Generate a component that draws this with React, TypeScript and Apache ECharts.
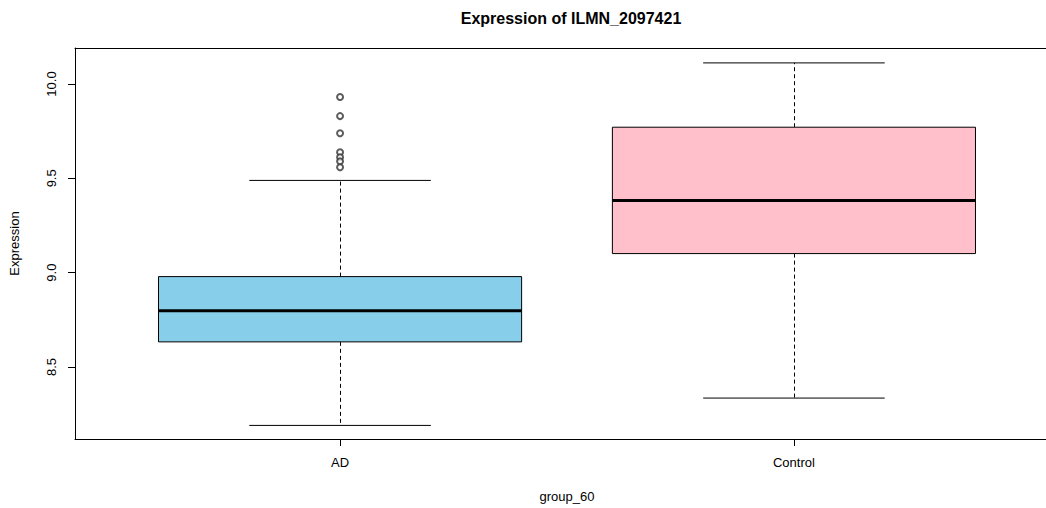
import React, { useEffect, useRef } from "react";
import * as echarts from "echarts";

const categories = ["AD", "Control"];
const whiskerLow = [8.19, 8.335];
const q1 = [8.633, 9.101];
const median = [8.798, 9.383];
const q3 = [8.979, 9.771];
const whiskerHigh = [9.489, 10.112];
const fills = ["#87CEEB", "#FFC0CB"];
const adOutliers = [9.931, 9.83, 9.739, 9.638, 9.612, 9.59, 9.559];
const yTicks = [8.5, 9.0, 9.5, 10.0];

const FONT = "Liberation Sans, Arial, sans-serif";

export default function App() {
  const ref = useRef<HTMLDivElement>(null);
  useEffect(() => {
    if (!ref.current) return;
    const chart = echarts.init(ref.current, null, { renderer: "svg" });
    const boxData = categories.map((c, i) => [i + 1, whiskerLow[i], q1[i], median[i], q3[i], whiskerHigh[i], i]);
    const outlierData = adOutliers.map((v) => [1, v]);
    const option = {
      animation: false,
      backgroundColor: "#ffffff",
      textStyle: { fontFamily: FONT },
      title: {
        text: "Expression of ILMN_2097421",
        left: 566,
        textAlign: "center",
        top: 5,
        textStyle: { fontFamily: FONT, fontSize: 16, fontWeight: "bold", color: "#000" },
      },
      grid: {
        left: 75,
        top: 48,
        right: -13,
        bottom: 69,
        show: false,
        containLabel: false,
        outerBoundsMode: "none",
      },
      xAxis: [
        {
          type: "value",
          min: 0.416,
          max: 2.584,
          name: "group_60",
          nameLocation: "middle",
          nameGap: 51,
          nameTextStyle: { fontFamily: FONT, fontSize: 13, color: "#000" },
          axisLine: { show: true, onZero: false, lineStyle: { color: "#000" } },
          splitLine: { show: false },
          axisTick: { show: true, length: 7, customValues: [1, 2], lineStyle: { color: "#000" } },
          axisLabel: {
            customValues: [1, 2],
            margin: 17,
            fontFamily: FONT,
            fontSize: 13,
            color: "#000",
            formatter: (v: number) => categories[Math.round(v) - 1] ?? "",
          },
        },
        {
          type: "value",
          min: 0.416,
          max: 2.584,
          position: "top",
          axisLine: { show: true, onZero: false, lineStyle: { color: "#000" } },
          splitLine: { show: false },
          axisTick: { show: false },
          axisLabel: { show: false },
        },
      ],
      yAxis: {
        type: "value",
        min: 8.118,
        max: 10.191,
        name: "Expression",
        nameLocation: "middle",
        nameGap: 54,
        nameRotate: 90,
        nameTextStyle: { fontFamily: FONT, fontSize: 13, color: "#000" },
        axisLine: { show: true, onZero: false, lineStyle: { color: "#000" } },
        splitLine: { show: false },
        axisTick: { show: true, length: 7, customValues: yTicks, lineStyle: { color: "#000" } },
        axisLabel: {
          customValues: yTicks,
          rotate: 90,
          margin: 17,
          fontFamily: FONT,
          fontSize: 13,
          color: "#000",
          formatter: (v: number) => v.toFixed(1),
        },
      },
      series: [
        {
          type: "custom",
          data: boxData,
          renderItem: (params: any, api: any) => {
            const x = api.value(0);
            const lo = api.value(1);
            const a = api.value(2);
            const m = api.value(3);
            const b = api.value(4);
            const hi = api.value(5);
            const idx = api.value(6);
            const pL = api.coord([x - 0.4, b]);
            const pR = api.coord([x + 0.4, a]);
            const cL = api.coord([x - 0.2, hi]);
            const cR = api.coord([x + 0.2, hi]);
            const lL = api.coord([x - 0.2, lo]);
            const lR = api.coord([x + 0.2, lo]);
            const pc = api.coord([x, m]);
            const pq3 = api.coord([x, b]);
            const pq1 = api.coord([x, a]);
            const ml = api.coord([x - 0.4, m]);
            const mr = api.coord([x + 0.4, m]);
            const cx = Math.round(pc[0]) + 0.5;
            const dashStyle = { stroke: "#000", lineWidth: 1, lineDash: [4, 3] };
            return {
              type: "group",
              children: [
                { type: "line", shape: { x1: cx, y1: pq3[1], x2: cx, y2: cL[1] }, style: dashStyle },
                { type: "line", shape: { x1: cx, y1: pq1[1], x2: cx, y2: lL[1] }, style: dashStyle },
                { type: "line", shape: { x1: cL[0], y1: cL[1], x2: cR[0], y2: cR[1] }, style: { stroke: "#000", lineWidth: 1 } },
                { type: "line", shape: { x1: lL[0], y1: lL[1], x2: lR[0], y2: lR[1] }, style: { stroke: "#000", lineWidth: 1 } },
                {
                  type: "rect",
                  shape: { x: pL[0], y: pL[1], width: pR[0] - pL[0], height: pR[1] - pL[1] },
                  style: { fill: fills[idx], stroke: "#000", lineWidth: 1 },
                },
                { type: "line", shape: { x1: ml[0], y1: ml[1], x2: mr[0], y2: mr[1] }, style: { stroke: "#000", lineWidth: 3 } },
              ],
            };
          },
          encode: { x: 0, y: [1, 2, 3, 4, 5] },
          z: 2,
        },
        {
          type: "scatter",
          data: outlierData,
          symbol: "emptyCircle",
          symbolSize: 6,
          itemStyle: { color: "#333", borderColor: "#333", borderWidth: 0.8 },
          z: 3,
        },
      ],
    };
    chart.setOption(option as any);
    return () => chart.dispose();
  }, []);
  return (
    <div
      ref={ref}
      style={{ position: "fixed", left: 0, top: 0, width: 1046, height: 508, background: "#fff" }}
    />
  );
}
